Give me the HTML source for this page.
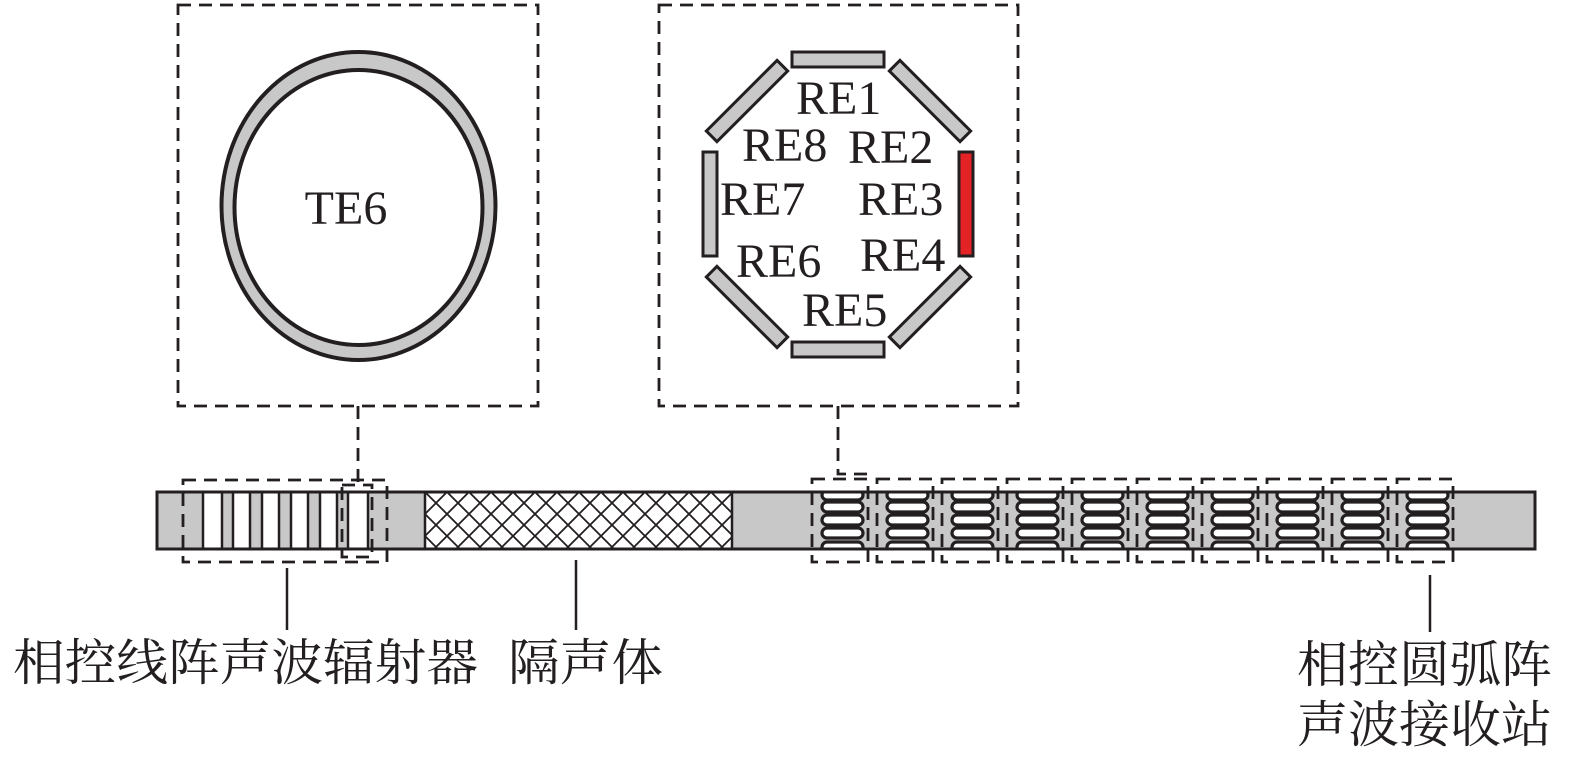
<!DOCTYPE html>
<html><head><meta charset="utf-8"><style>
html,body{margin:0;padding:0;background:#fff;}
svg{display:block;}
.s{font-family:"Liberation Serif",serif;font-size:48px;fill:#231f20;}
.c{font-family:"Liberation Serif","Noto Serif CJK SC","Noto Sans CJK SC",serif;font-size:50px;fill:#231f20;}
</style></head><body>
<svg width="1575" height="764" viewBox="0 0 1575 764" xmlns="http://www.w3.org/2000/svg">
<defs>
<clipPath id="bar"><rect x="157" y="492" width="1378" height="57"/></clipPath>
<pattern id="hatch" width="22" height="22" patternUnits="userSpaceOnUse" x="425" y="492">
<path d="M0 0L22 22M22 0L0 22" stroke="#231f20" stroke-width="1.8"/>
</pattern>
<g id="ovals">
<rect x="0" y="-5" width="41" height="10" rx="5" fill="#fff" stroke="#231f20" stroke-width="3.2"/>
</g>
</defs>
<g stroke="#231f20" fill="none" stroke-width="2.8" stroke-dasharray="13 8">
<rect x="178" y="5" width="360" height="401"/>
<rect x="659" y="5" width="359" height="401"/>
</g>
<path fill="#c8c8c8" fill-rule="evenodd" stroke="#231f20" stroke-width="4" d="M221.5 206a137 154 0 1 0 274 0a137 154 0 1 0 -274 0ZM234.5 207.5a124 137.5 0 1 0 248 0a124 137.5 0 1 0 -248 0Z"/>
<text class="s" x="346" y="224" text-anchor="middle" font-size="50">TE6</text>
<g fill="#c8c8c8" stroke="#231f20" stroke-width="3">
<rect x="792" y="52" width="92" height="15"/>
<rect x="792" y="342" width="92" height="15"/>
<rect x="703" y="152" width="14" height="104"/>
<rect x="959" y="152" width="14" height="104" fill="#e32226"/>
<rect x="-50" y="-7.5" width="100" height="15" transform="translate(747,101) rotate(-45)"/>
<rect x="-50" y="-7.5" width="100" height="15" transform="translate(930,101) rotate(45)"/>
<rect x="-50" y="-7.5" width="100" height="15" transform="translate(747,307) rotate(45)"/>
<rect x="-50" y="-7.5" width="100" height="15" transform="translate(930,307) rotate(-45)"/>
</g>
<text class="s" x="796" y="114">RE1</text>
<text class="s" x="742" y="161">RE8</text>
<text class="s" x="848" y="163">RE2</text>
<text class="s" x="720" y="215">RE7</text>
<text class="s" x="858" y="215">RE3</text>
<text class="s" x="736" y="277">RE6</text>
<text class="s" x="860" y="271">RE4</text>
<text class="s" x="802" y="326">RE5</text>
<rect x="157" y="492" width="1378" height="57" fill="#c8c8c8"/>
<g fill="#fff" stroke="#231f20" stroke-width="2.5">
<rect x="203" y="492" width="19" height="57"/>
<rect x="233" y="492" width="17" height="57"/>
<rect x="262" y="492" width="17" height="57"/>
<rect x="291" y="492" width="17" height="57"/>
<rect x="320" y="492" width="17" height="57"/>
<rect x="348" y="492" width="20" height="57"/>
</g>
<rect x="425" y="492" width="307" height="57" fill="#fff"/>
<rect x="425" y="492" width="307" height="57" fill="url(#hatch)" stroke="#231f20" stroke-width="2.5"/>
<g clip-path="url(#bar)">
<g id="col">
<use href="#ovals" x="822" y="495"/>
<use href="#ovals" x="822" y="507"/>
<use href="#ovals" x="822" y="520"/>
<use href="#ovals" x="822" y="533"/>
<use href="#ovals" x="822" y="547"/>
</g>
<use href="#col" x="65"/><use href="#col" x="130"/><use href="#col" x="195"/><use href="#col" x="260"/>
<use href="#col" x="325"/><use href="#col" x="390"/><use href="#col" x="455"/><use href="#col" x="520"/><use href="#col" x="585"/>
</g>
<rect x="157" y="492" width="1378" height="57" fill="none" stroke="#231f20" stroke-width="3"/>
<g stroke="#231f20" fill="none" stroke-width="2.8" stroke-dasharray="13 8">
<rect x="183" y="480" width="204" height="82"/>
<rect x="342" y="485" width="30" height="72"/>
<g id="db"><rect x="812" y="479" width="56" height="83"/></g>
<use href="#db" x="65"/><use href="#db" x="130"/><use href="#db" x="195"/><use href="#db" x="260"/>
<use href="#db" x="325"/><use href="#db" x="390"/><use href="#db" x="455"/><use href="#db" x="520"/><use href="#db" x="585"/>
<path d="M358 406V485"/>
<path d="M838 406V474H868"/>
</g>
<g stroke="#231f20" stroke-width="2.5">
<path d="M287 568V630"/>
<path d="M576 560V630"/>
<path d="M1430 575V632"/>
</g>
<text class="c" x="13" y="680" textLength="465" lengthAdjust="spacingAndGlyphs">相控线阵声波辐射器</text>
<text class="c" x="508" y="680" textLength="155" lengthAdjust="spacingAndGlyphs">隔声体</text>
<text class="c" x="1297" y="682" textLength="255" lengthAdjust="spacingAndGlyphs">相控圆弧阵</text>
<text class="c" x="1297" y="742" textLength="255" lengthAdjust="spacingAndGlyphs">声波接收站</text>
</svg>
</body></html>
